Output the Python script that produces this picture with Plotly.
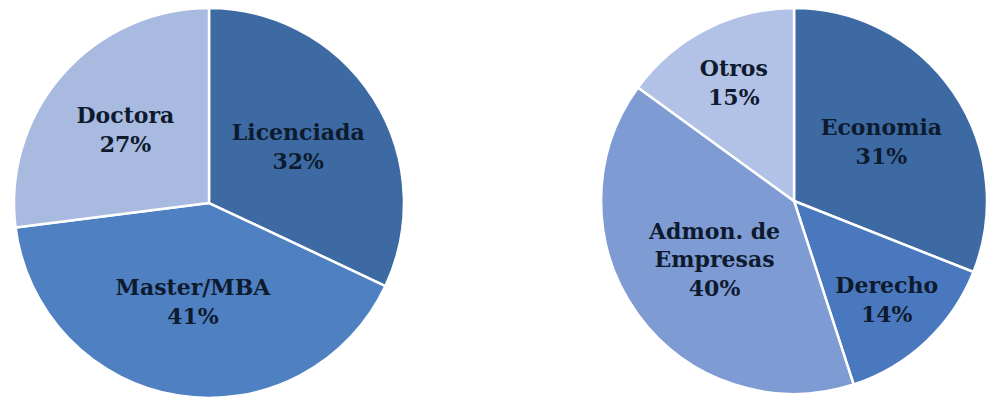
import plotly.graph_objects as go

# Formación académica
edu_labels = ["Licenciada", "Master/MBA", "Doctora"]
edu_values = [32, 41, 27]
edu_colors = ["#3D6AA3", "#4E80C2", "#A8BAE0"]

# Área de estudios
area_labels = ["Economia", "Derecho", "Admon. de<br>Empresas", "Otros"]
area_values = [31, 14, 40, 15]
area_colors = ["#3D6AA3", "#4A78BE", "#7E9BD3", "#B2C2E6"]

label_font = dict(family="DejaVu Serif", size=22, color="#0E1A2E", weight="bold")

fig = go.Figure()

fig.add_trace(go.Pie(
    labels=edu_labels, values=edu_values,
    marker=dict(colors=edu_colors, line=dict(color="white", width=2.5)),
    sort=False, direction="clockwise", rotation=0,
    texttemplate="%{label}<br>%{value}%", textposition="inside",
    insidetextorientation="horizontal", textfont=label_font,
    domain=dict(x=[0.0142, 0.4093], y=[0.0075, 0.980]),
    showlegend=False,
))

fig.add_trace(go.Pie(
    labels=area_labels, values=area_values,
    marker=dict(colors=area_colors, line=dict(color="white", width=2.5)),
    sort=False, direction="clockwise", rotation=0,
    texttemplate="%{label}<br>%{value}%", textposition="inside",
    insidetextorientation="horizontal", textfont=label_font,
    domain=dict(x=[0.609, 1.0], y=[0.0175, 0.980]),
    showlegend=False,
))

fig.update_layout(
    width=987, height=401,
    margin=dict(l=0, r=0, t=0, b=0),
    paper_bgcolor="white", plot_bgcolor="white",
    uniformtext=dict(minsize=22, mode="show"),
)

fig.write_html("out.html")
